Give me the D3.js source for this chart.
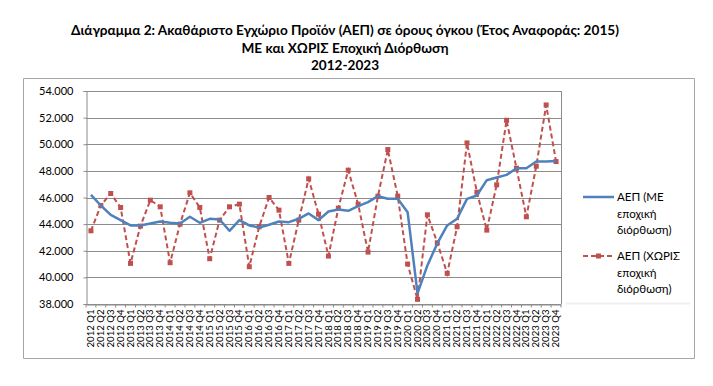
<!DOCTYPE html>
<html>
<head>
<meta charset="utf-8">
<script src="https://cdn.jsdelivr.net/npm/d3@7"></script>
<style>
  body { margin: 0; background: #fff; }
  svg { font-family: Lato, 'Open Sans', sans-serif; }
</style>
</head>
<body>
<svg id="svg" width="713" height="386"></svg>
<script>
// data (thousands -> shown as 54.000 etc)
var years = ['2012','2013','2014','2015','2016','2017','2018','2019','2020','2021','2022','2023'];
var quarters = ['Q1','Q2','Q3','Q4'];
var categories = [];
years.forEach(y => quarters.forEach(q => categories.push(y + ' ' + q)));

var seasonal = [46.2,45.4,44.7,44.3, 43.9,43.9,44.05,44.2, 44.1,44.05,44.55,44.1,
                44.4,44.35,43.5,44.3, 43.9,43.75,43.95,44.2, 44.15,44.4,44.8,44.3,
                44.95,45.1,45.0,45.35, 45.65,46.1,45.9,45.9, 44.9,38.8,40.9,42.55,
                43.9,44.4,45.9,46.15, 47.3,47.5,47.7,48.2, 48.2,48.7,48.7,48.75];
var raw = [43.5,45.4,46.3,45.25, 41.05,43.85,45.8,45.3, 41.1,44.0,46.35,45.25,
           41.4,44.3,45.3,45.5, 40.8,43.8,46.0,45.05, 41.05,44.3,47.4,44.75,
           41.6,45.2,48.05,45.5, 41.9,46.1,49.6,46.1, 41.0,38.35,44.7,42.6,
           40.3,43.8,50.1,46.4, 43.55,46.95,51.8,48.2, 44.55,48.35,52.95,48.7];
var yTicks = [38,40,42,44,46,48,50,52,54];

var titleLines = ['Διάγραμμα 2: Ακαθάριστο Εγχώριο Προϊόν (ΑΕΠ) σε όρους όγκου (Έτος Αναφοράς: 2015)',
                  'ΜΕ και ΧΩΡΙΣ Εποχική Διόρθωση',
                  '2012-2023'];
var legendSeasonal = ['ΑΕΠ (ΜΕ', 'εποχική', 'διόρθωση)'];
var legendRaw = ['ΑΕΠ (ΧΩΡΙΣ', 'εποχική', 'διόρθωση)'];

var svg = d3.select('#svg');
var margin = { top: 91, left: 86, right: 152, bottom: 82 };
var width = 713, height = 386;
var innerWidth = width - margin.left - margin.right;   // 475
var innerHeight = height - margin.top - margin.bottom; // 213

var blue = '#4F81BD', red = '#C0504D';

// title
svg.append('g').selectAll('text')
  .data(titleLines)
  .join('text')
  .attr('x', 345)
  .attr('y', (d, i) => 35 + i * 17.5)
  .attr('text-anchor', 'middle')
  .style('font-weight', 'bold')
  .style('font-size', '13.6px')
  .text(d => d);

// chart border, drawn as a path
var frame = d3.path();
frame.rect(23.5, 78.5, 671, 280);
svg.append('path')
  .attr('d', frame.toString())
  .attr('fill', 'none')
  .attr('stroke', '#a6a6a6');

var g = svg.append('g')
  .attr('transform', 'translate(' + margin.left + ',' + margin.top + ')');

var xScale = d3.scaleBand().domain(categories).range([0, innerWidth]);
var yScale = d3.scaleLinear().domain([38, 54]).range([innerHeight, 0]);
var cx = d => xScale(d) + xScale.bandwidth() / 2;

// gridlines
g.selectAll('.grid')
  .data(yTicks)
  .join('line')
  .attr('x1', 0).attr('x2', innerWidth)
  .attr('y1', d => Math.round(yScale(d)) + 0.5)
  .attr('y2', d => Math.round(yScale(d)) + 0.5)
  .attr('stroke', '#8c8c8c');

// right edge of plot area
g.append('line')
  .attr('x1', innerWidth + 0.5).attr('x2', innerWidth + 0.5)
  .attr('y1', 0).attr('y2', innerHeight)
  .attr('stroke', '#8c8c8c');

// y axis
var yAxis = d3.axisLeft(yScale)
  .tickValues(yTicks)
  .tickSize(3)
  .tickFormat(d => d3.format('.3f')(d));
var yg = g.append('g').attr('transform', 'translate(0.5,0)').call(yAxis)
  .attr('font-size', 11)
  .attr('font-family', 'Lato, sans-serif');
yg.select('.domain').attr('stroke', '#8c8c8c');
yg.selectAll('.tick line').attr('stroke', '#8c8c8c');
yg.selectAll('.tick text')
  .attr('x', -13)
  .attr('fill', '#000');

// x axis
var xAxis = d3.axisBottom(xScale).tickSize(0).tickPadding(0);
var xg = g.append('g').attr('transform', 'translate(0,' + (innerHeight + 0.5) + ')').call(xAxis)
  .attr('font-size', 9.6)
  .attr('font-family', 'Lato, sans-serif');
xg.select('.domain').attr('stroke', '#8c8c8c');
xg.selectAll('.tick text')
  .attr('transform', 'rotate(-90)')
  .attr('x', -5)
  .attr('y', 0)
  .attr('dy', '0.32em')
  .attr('text-anchor', 'end')
  .attr('fill', '#000');
// ticks between categories
xg.selectAll('.sep')
  .data(categories.concat(['end']))
  .join('line')
  .attr('x1', (d, i) => i * xScale.step())
  .attr('x2', (d, i) => i * xScale.step())
  .attr('y1', 0).attr('y2', 3)
  .attr('stroke', '#8c8c8c');

// lines
var line = d3.line().x((d, i) => cx(categories[i])).y(d => yScale(d));

g.append('path')
  .datum(raw)
  .attr('d', line)
  .attr('fill', 'none')
  .attr('stroke', red)
  .attr('stroke-width', 2)
  .attr('stroke-dasharray', '5,3');

g.selectAll('.mark')
  .data(raw)
  .join('rect')
  .attr('x', (d, i) => cx(categories[i]) - 2.5)
  .attr('y', d => yScale(d) - 2.5)
  .attr('width', 5).attr('height', 5)
  .attr('fill', red);

g.append('path')
  .datum(seasonal)
  .attr('d', line)
  .attr('fill', 'none')
  .attr('stroke', blue)
  .attr('stroke-width', 2.5)
  .attr('stroke-linejoin', 'round');

// legend (faint shadow under the box like the original)
svg.append('line')
  .attr('x1', 566).attr('x2', 690).attr('y1', 303.5).attr('y2', 303.5)
  .attr('stroke', '#f0f0f0').attr('stroke-width', 2);

var lg = svg.append('g').attr('transform', 'translate(583,0)');
lg.append('line')
  .attr('x1', 0).attr('x2', 31).attr('y1', 197).attr('y2', 197)
  .attr('stroke', blue).attr('stroke-width', 2.5);
lg.selectAll('.l1')
  .data(legendSeasonal)
  .join('text')
  .attr('x', 34)
  .attr('y', (d, i) => 201 + i * 16.5)
  .style('font-size', '11.5px')
  .text(d => d);

lg.append('line')
  .attr('x1', 0).attr('x2', 31).attr('y1', 256).attr('y2', 256)
  .attr('stroke', red).attr('stroke-width', 2).attr('stroke-dasharray', '5,3');
lg.append('rect')
  .attr('x', 13).attr('y', 253.5).attr('width', 5).attr('height', 5)
  .attr('fill', red);
lg.selectAll('.l2')
  .data(legendRaw)
  .join('text')
  .attr('x', 34)
  .attr('y', (d, i) => 260 + i * 16.5)
  .style('font-size', '11.5px')
  .text(d => d);
</script>
</body>
</html>
